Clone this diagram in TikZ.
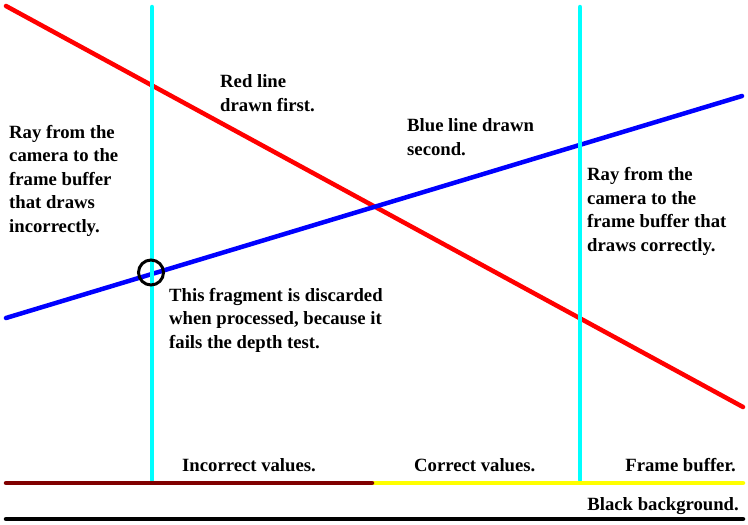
\documentclass[tikz,border=0pt]{standalone}
\usepackage{fontspec}
\setmainfont{Liberation Serif}
\usepackage{tikz}

\definecolor{raycyan}{RGB}{0,255,255}
\definecolor{bufyellow}{RGB}{255,255,0}
\definecolor{bufmaroon}{RGB}{128,0,0}
\definecolor{linered}{RGB}{255,0,0}
\definecolor{lineblue}{RGB}{0,0,255}

\tikzset{
  lbl/.style={inner sep=0pt, align=left, anchor=base west,
    font=\bfseries\fontsize{18.7}{23.5}\selectfont},
  ray/.style={raycyan, line width=4.5pt, line cap=round},
  tri/.style={line width=4.5pt, line cap=round}
}

\begin{document}
\begin{tikzpicture}[x=1pt, y=-1pt]
			\useasboundingbox (0,0) rectangle (748,525);
			% Define end points
			\coordinate (r1) at (6,6);
			\coordinate (r2) at (743,407);
			\coordinate (b1) at (6,318);
			\coordinate (b2) at (742,96);
			\coordinate (c1) at (152,7);
			\coordinate (c2) at (152,480);
			\coordinate (d1) at (580,7);
			\coordinate (d2) at (580,480);
			\coordinate (f1) at (6,483);
			\coordinate (fm) at (372,483);
			\coordinate (f2) at (743,483);
			\coordinate (k1) at (6,519);
			\coordinate (k2) at (743,519);
			
			% Draw lines
			\draw[tri, linered] (r1) -- (r2);
			\draw[tri, lineblue] (b1) -- (b2);
			\draw[ray] (c1) -- (c2);
			\draw[ray] (d1) -- (d2);
			\draw[tri, bufyellow] (fm) -- (f2);
			\draw[tri, bufmaroon] (f1) -- (fm);
			\draw[tri, black] (k1) -- (k2);
			
			% Discarded fragment
			\node (frag) at (151,272.5) [circle, draw, line width=3pt, minimum size=25pt, inner sep=0pt] {};
			
			% Add labels (base is the last line)
			\node (red) at (220,111) [lbl] {Red line\\drawn first.};
			\node (blu) at (407,155) [lbl] {Blue line drawn\\second.};
			\node (inc) at (9,232) [lbl] {Ray from the\\camera to the\\frame buffer\\that draws\\incorrectly.};
			\node (cor) at (587,251) [lbl] {Ray from the\\camera to the\\frame buffer that\\draws correctly.};
			\node (dis) at (169,348) [lbl] {This fragment is discarded\\when processed, because it\\fails the depth test.};
			\node (iv) at (182,471) [lbl] {Incorrect values.};
			\node (cv) at (414,471) [lbl] {Correct values.};
			\node (fb) at (736,471) [lbl, anchor=base east] {Frame buffer.};
			\node (bb) at (739,510) [lbl, anchor=base east] {Black background.};
		\end{tikzpicture}
\end{document}
